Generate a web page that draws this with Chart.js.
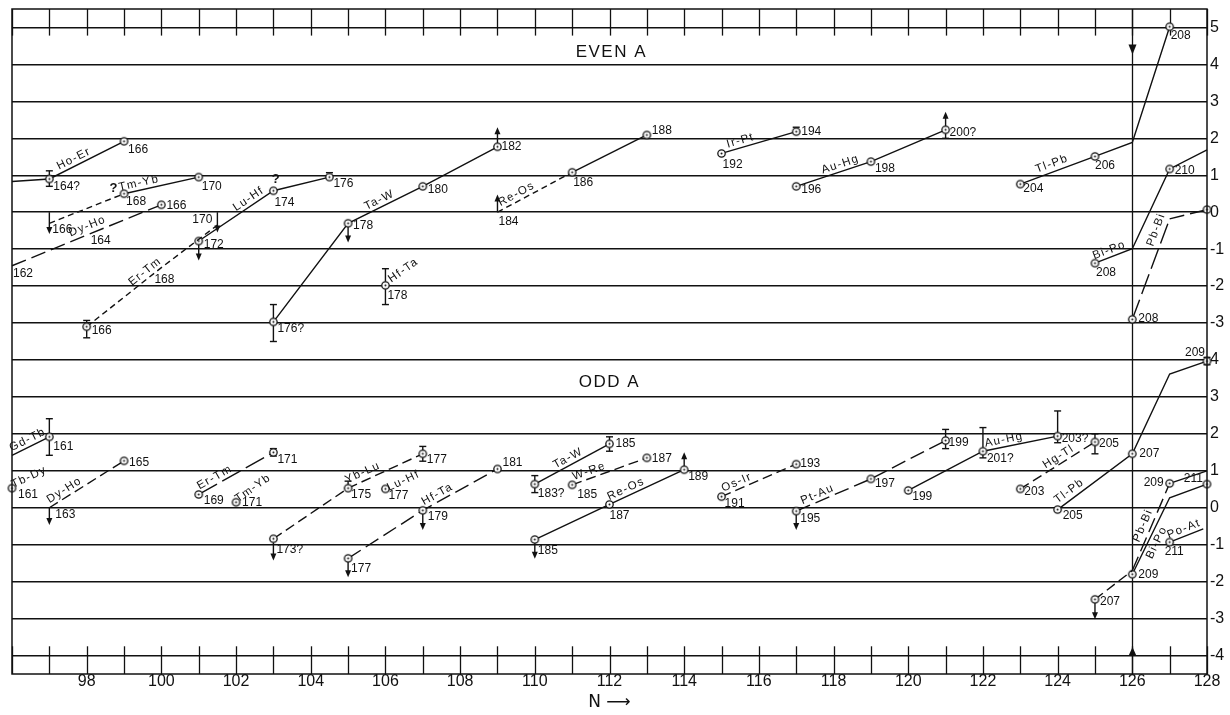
<!DOCTYPE html>
<html>
<head>
<meta charset="utf-8">
<title>Decay energies vs N, even A and odd A</title>
<script src="https://cdn.jsdelivr.net/npm/chart.js@4.4.0/dist/chart.umd.min.js"></script>
<style>
  html, body { margin: 0; padding: 0; background: #fff; }
  #chart { display: block; }
</style>
</head>
<body>
<canvas id="chart" width="1230" height="715"></canvas>
<script>
/* ---- tick labels ---- */
const nTicks = [98, 100, 102, 104, 106, 108, 110, 112, 114, 116, 118, 120, 122, 124, 126, 128];
const evenTicks = [-3, -2, -1, 0, 1, 2, 3, 4, 5];
const oddTicks = [-4, -3, -2, -1, 0, 1, 2, 3, 4];

/* ---- EVEN A: [N, energy, mass number] ---- */
const eHoEr = [[96, 0.83, null], [97, 0.9, "164?"], [99, 1.92, "166"]];
const eTmYb = [[97, -0.3, "166"], [99, 0.5, "168"], [101, 0.95, "170"]];
const eDyHo = [[96, -1.45, "162"], [98, -0.62, "164"], [100, 0.2, "166"]];
const eErTm = [[98, -3.1, "166"], [100, -1.5, "168"], [101.5, -0.35, "170"]];
const eLuHf = [[101, -0.78, "172"], [103, 0.58, "174"], [104.5, 0.95, "176"]];
const eTaW = [[103, -2.97, "176?"], [105, -0.3, "178"], [107, 0.7, "180"], [109, 1.77, "182"]];
const eHfTa = [[106, -1.98, "178"]];
const eReOs = [[109, 0, "184"], [111, 1.08, "186"], [113, 2.09, "188"]];
const eIrPt = [[115, 1.59, "192"], [117, 2.18, "194"]];
const eAuHg = [[117, 0.7, "196"], [119, 1.37, "198"], [121, 2.23, "200?"]];
const eTlPb = [[123, 0.76, "204"], [125, 1.51, "206"], [126, 1.89, null], [127, 5.02, "208"]];
const eBiPo = [[125, -1.38, "208"], [126, -0.99, null], [127, 1.17, "210"], [128, 1.69, null]];
const ePbBi = [[126, -2.9, "208"], [127, -0.18, null], [128, 0.07, null]];

// error bars [N, low, high] and limit arrows [N, from, to]
const eErrors = [[97, 0.7, 1.12], [98, -3.4, -2.93], [103, -3.5, -2.5], [106, -2.5, -1.53],
  [104.5, 0.95, 1.07], [117, 2.18, 2.3], [121, 2.0, 2.23]];
const eLimits = [[97, 0, -0.59], [101.5, 0, -0.55], [101, -0.78, -1.31], [105, -0.3, -0.82],
  [109, 1.77, 2.3], [109, 0, 0.48], [121, 2.23, 2.72]];
const eNotes = [[98.72, 0.64, "?"], [103.06, 0.9, "?"]];

/* ---- ODD A ---- */
const oGdTb = [[96, 1.42, null], [97, 1.92, "161"]];
const oTbDy = [[96, 0.53, "161"]];
const oDyHo = [[97, 0, "163"], [99, 1.27, "165"]];
const oErTm = [[101, 0.36, "169"], [103, 1.5, "171"]];
const oTmYb = [[102, 0.15, "171"]];
const oYbLu = [[103, -0.84, "173?"], [105, 0.53, "175"], [107, 1.46, "177"]];
const oLuHf = [[106, 0.51, "177"]];
const oHfTa = [[105, -1.37, "177"], [107, -0.07, "179"], [109, 1.05, "181"]];
const oTaW = [[110, 0.64, "183?"], [112, 1.73, "185"]];
const oWRe = [[111, 0.62, "185"], [113, 1.35, "187"]];
const oReOs = [[110, -0.86, "185"], [112, 0.09, "187"], [114, 1.03, "189"]];
const oOsIr = [[115, 0.3, "191"], [117, 1.18, "193"]];
const oPtAu = [[117, -0.09, "195"], [119, 0.78, "197"], [121, 1.82, "199"]];
const oAuHg = [[120, 0.47, "199"], [122, 1.53, "201?"], [124, 1.94, "203?"]];
const oHgTl = [[123, 0.51, "203"], [125, 1.78, "205"]];
const oTlPb = [[124, -0.05, "205"], [126, 1.46, "207"], [127, 3.62, null], [128, 3.97, "209"]];
const oPbBi = [[125, -2.48, "207"], [126, -1.7, null], [127, 0.66, "209"], [128, 1.0, null]];
const oBiPo = [[126, -1.8, "209"], [127, 0.27, null], [128, 0.64, "211"]];
const oPoAt = [[127, -0.93, "211"], [127.9, -0.57, null]];

const oErrors = [[97, 1.42, 2.41], [103, 1.4, 1.6], [105, 0.53, 0.72], [107, 1.26, 1.66],
  [110, 0.41, 0.87], [112, 1.53, 1.92], [121, 1.6, 2.12], [122, 1.35, 2.17],
  [124, 1.76, 2.62], [125, 1.46, 2.0], [128, 3.87, 4.07]];
const oLimits = [[97, 0, -0.47], [103, -0.84, -1.43], [105, -1.37, -1.88], [107, -0.07, -0.6],
  [110, -0.86, -1.38], [114, 1.03, 1.5], [117, -0.09, -0.6], [125, -2.48, -3.02]];

// closed shell at N = 126, arrow tips in each panel
const shellN = 126;
const shellTips = { even: 4.27, odd: -3.77 };

/* ---- styles ---- */
const ink = "#111";
const family = "'Liberation Sans', Arial, sans-serif";
const dashes = { solid: [], short: [6, 4], mid: [10, 5], long: [15, 6], xlong: [21, 6] };

// seg: [segment, position along it, offset above]; at: [dx, dy, angle] for single points
const evenSeries = [
  { pts: eHoEr, name: "Ho-Er", mark: [1, 2], dash: ["solid"], seg: [1, 0.37, 7], lab: [null, [4, 8], [4, 8]] },
  { pts: eTmYb, name: "Tm-Yb", mark: [1, 2], dash: ["short", "solid"], seg: [1, 0.22, 7], lab: [[3, 6], [2, 8], [3, 10]] },
  { pts: eDyHo, name: "Dy-Ho", mark: [2], dash: ["long"], seg: [1, 0.05, 8], lab: [[1, 8], [4, 6], [5, 1]] },
  { pts: eErTm, name: "Er-Tm", mark: [0], dash: ["short"], seg: [0, 0.84, 7], lab: [[5, 4], [-7, 12], [-5, -5, "r"]] },
  { pts: eLuHf, name: "Lu-Hf", mark: [0, 1, 2], dash: ["solid"], seg: [0, 0.72, 7], lab: [[5, 4], [1, 12], [4, 7]] },
  { pts: eTaW, name: "Ta-W", mark: [0, 1, 2, 3], dash: ["solid"], seg: [1, 0.46, 7], lab: [[4, 7], [5, 2], [5, 3], [4, 0]] },
  { pts: eHfTa, name: "Hf-Ta", mark: [0], dash: ["solid"], at: [18, -15, -35], lab: [[2, 10]] },
  { pts: eReOs, name: "Re-Os", mark: [1, 2], dash: ["short", "solid"], seg: [0, 0.3, 7], lab: [[1, 9], [1, 10], [5, -4]] },
  { pts: eIrPt, name: "Ir-Pt", mark: [0, 1], dash: ["solid"], seg: [0, 0.28, 7], lab: [[1, 11], [5, 0]] },
  { pts: eAuHg, name: "Au-Hg", mark: [0, 1, 2], dash: ["solid"], seg: [0, 0.62, 7], lab: [[5, 3], [4, 7], [4, 3]] },
  { pts: eTlPb, name: "Tl-Pb", mark: [0, 1, 3], dash: ["solid"], seg: [0, 0.46, 8], lab: [[3, 5], [0, 9], null, [1, 9]] },
  { pts: eBiPo, name: "Bi-Po", mark: [0, 2], dash: ["solid"], seg: [0, 0.45, 7], lab: [[1, 10], null, [5, 2], null] },
  { pts: ePbBi, name: "Pb-Bi", mark: [0, 2], dash: ["xlong", "long"], seg: [0, 0.86, 9], lab: [[6, -1], null, null] },
];

const oddSeries = [
  { pts: oGdTb, name: "Gd-Tb", mark: [1], dash: ["solid"], seg: [0, 0.5, 7], lab: [null, [4, 10]] },
  { pts: oTbDy, name: "Tb-Dy", mark: [0], dash: ["solid"], at: [17, -11, -25], lab: [[6, 7]] },
  { pts: oDyHo, name: "Dy-Ho", mark: [1], dash: ["mid"], seg: [0, 0.25, 7], lab: [[6, 7], [5, 2]] },
  { pts: oErTm, name: "Er-Tm", mark: [0, 1], dash: ["xlong"], seg: [0, 0.26, 7], lab: [[5, 6], [4, 7]] },
  { pts: oTmYb, name: "Tm-Yb", mark: [0], dash: ["solid"], at: [17, -14, -35], lab: [[6, 0]] },
  { pts: oYbLu, name: "Yb-Lu", mark: [0, 1, 2], dash: ["mid"], seg: [1, 0.24, 8], lab: [[3, 11], [3, 7], [4, 6]] },
  { pts: oLuHf, name: "Lu-Hf", mark: [0], dash: ["solid"], at: [18, -8, -25], lab: [[3, 7]] },
  { pts: oHfTa, name: "Hf-Ta", mark: [0, 1, 2], dash: ["long"], seg: [1, 0.24, 7], lab: [[3, 10], [5, 6], [5, -6]] },
  { pts: oTaW, name: "Ta-W", mark: [0, 1], dash: ["solid"], seg: [0, 0.49, 7], lab: [[3, 10], [6, 0]] },
  { pts: oWRe, name: "W-Re", mark: [0, 1], dash: ["mid"], seg: [0, 0.26, 7], lab: [[5, 10], [5, 1]] },
  { pts: oReOs, name: "Re-Os", mark: [0, 1, 2], dash: ["solid"], seg: [1, 0.26, 7], lab: [[3, 11], [0, 11], [4, 7]] },
  { pts: oOsIr, name: "Os-Ir", mark: [0, 1], dash: ["mid"], seg: [0, 0.24, 7], lab: [[3, 7], [4, 0]] },
  { pts: oPtAu, name: "Pt-Au", mark: [0, 1, 2], dash: ["long"], seg: [0, 0.32, 7], lab: [[4, 8], [4, 5], [3, 2]] },
  { pts: oAuHg, name: "Au-Hg", mark: [0, 1, 2], dash: ["solid"], seg: [1, 0.3, 7], lab: [[4, 6], [4, 7], [4, 3]] },
  { pts: oHgTl, name: "Hg-Tl", mark: [0, 1], dash: ["mid"], seg: [0, 0.56, 7], lab: [[4, 3], [4, 2]] },
  { pts: oTlPb, name: "Tl-Pb", mark: [0, 1, 3], dash: ["solid"], seg: [0, 0.22, 8], lab: [[5, 6], [7, 0], null, [-2, -8, "r"]] },
  { pts: oPbBi, name: "Pb-Bi", mark: [0, 2], dash: ["mid", "long", "solid"], seg: [1, 0.48, 8], lab: [[5, 2], null, [-6, -1, "r"], null] },
  { pts: oBiPo, name: "Bi-Po", mark: [0, 2], dash: ["solid"], seg: [0, 0.46, -8], lab: [[6, 0], null, [-4, -5, "r"]] },
  { pts: oPoAt, name: "Po-At", mark: [0], dash: ["solid"], seg: [0, 0.5, 7], lab: [[-5, 10]] },
];

const panelTitles = [
  { axis: "yEven", n: 112.05, v: 4.33, text: "EVEN A" },
  { axis: "yOdd", n: 112, v: 3.4, text: "ODD A" },
];

/* ---- marker: open circle with a centre dot ---- */
function makeMarker() {
  const c = document.createElement("canvas");
  c.width = c.height = 11;
  const g = c.getContext("2d");
  g.fillStyle = "#fff";
  g.beginPath(); g.arc(5.5, 5.5, 3.7, 0, 2 * Math.PI); g.fill();
  g.lineWidth = 1.3; g.strokeStyle = ink; g.stroke();
  g.fillStyle = ink;
  g.beginPath(); g.arc(5.5, 5.5, 1, 0, 2 * Math.PI); g.fill();
  return c;
}
const marker = makeMarker();

const allSeries = [];
function buildDatasets(series, axis) {
  return series.map((s) => {
    allSeries.push({ s, axis });
    return {
      data: s.pts.map((p) => ({ x: p[0], y: p[1] })),
      yAxisID: axis,
      borderColor: ink,
      borderWidth: 1.4,
      tension: 0,
      fill: false,
      clip: false,
      pointStyle: marker,
      pointRadius: (ctx) => (s.mark.includes(ctx.dataIndex) ? 4 : 0),
      pointHoverRadius: 0,
      segment: { borderDash: (ctx) => dashes[s.dash[ctx.p0DataIndex] || s.dash[0]] },
    };
  });
}

function line(ctx, x0, y0, x1, y1) {
  ctx.beginPath(); ctx.moveTo(x0, y0); ctx.lineTo(x1, y1); ctx.stroke();
}
function arrow(ctx, x, y0, y1, len, half) {
  const dir = Math.sign(y1 - y0);
  line(ctx, x, y0, x, y1 - dir * len * 0.5);
  ctx.beginPath();
  ctx.moveTo(x, y1);
  ctx.lineTo(x - half, y1 - dir * len);
  ctx.lineTo(x + half, y1 - dir * len);
  ctx.closePath(); ctx.fill();
}

const decor = {
  id: "decor",
  beforeDatasetsDraw(chart) {
    const { ctx, chartArea: a, scales } = chart;
    const x = scales.x, yE = scales.yEven, yO = scales.yOdd;
    ctx.save();
    ctx.strokeStyle = ink; ctx.fillStyle = ink;
    // tick strips along top and bottom
    ctx.lineWidth = 1.3;
    const topEnd = yE.getPixelForValue(4.78), botStart = yO.getPixelForValue(-3.75);
    for (let n = Math.ceil(x.min); n <= x.max; n++) {
      const px = Math.round(x.getPixelForValue(n)) + 0.5;
      line(ctx, px, a.top, px, topEnd);
      line(ctx, px, botStart, px, a.bottom);
    }
    // closed shell line
    const sx = Math.round(x.getPixelForValue(shellN)) + 0.5;
    line(ctx, sx, a.top, sx, a.bottom);
    const tipE = yE.getPixelForValue(shellTips.even), tipO = yO.getPixelForValue(shellTips.odd);
    ctx.beginPath(); ctx.moveTo(sx, tipE); ctx.lineTo(sx - 4, tipE - 10); ctx.lineTo(sx + 4, tipE - 10); ctx.closePath(); ctx.fill();
    ctx.beginPath(); ctx.moveTo(sx, tipO); ctx.lineTo(sx - 4, tipO + 9); ctx.lineTo(sx + 4, tipO + 9); ctx.closePath(); ctx.fill();
    // error bars and limit arrows
    ctx.lineWidth = 1.4;
    [[eErrors, yE], [oErrors, yO]].forEach(([list, y]) => {
      list.forEach(([n, lo, hi]) => {
        const px = x.getPixelForValue(n), p0 = y.getPixelForValue(lo), p1 = y.getPixelForValue(hi);
        line(ctx, px, p0, px, p1);
        line(ctx, px - 3.5, p0, px + 3.5, p0);
        line(ctx, px - 3.5, p1, px + 3.5, p1);
      });
    });
    [[eLimits, yE], [oLimits, yO]].forEach(([list, y]) => {
      list.forEach(([n, from, to]) => {
        arrow(ctx, x.getPixelForValue(n), y.getPixelForValue(from), y.getPixelForValue(to), 7, 3);
      });
    });
    ctx.restore();
  },
  afterDatasetsDraw(chart) {
    const { ctx, chartArea: a, scales } = chart;
    const x = scales.x;
    ctx.save();
    ctx.fillStyle = ink; ctx.strokeStyle = ink;
    ctx.textBaseline = "middle";
    allSeries.forEach(({ s }, i) => {
      const meta = chart.getDatasetMeta(i);
      // mass number labels
      ctx.font = "12px " + family;
      ctx.letterSpacing = "0px";
      s.pts.forEach((p, j) => {
        const off = s.lab[j];
        if (p[2] === null || !off) return;
        const el = meta.data[j];
        ctx.textAlign = off[2] === "r" ? "right" : "left";
        ctx.fillText(p[2], el.x + off[0], el.y + off[1]);
      });
      // element pair names along the line
      ctx.font = "11.5px " + family;
      ctx.letterSpacing = "1.3px";
      ctx.textAlign = "center";
      let nx, ny, ang;
      if (s.seg) {
        const [j, t, off] = s.seg;
        const p0 = meta.data[j], p1 = meta.data[j + 1];
        ang = Math.atan2(p1.y - p0.y, p1.x - p0.x);
        nx = p0.x + t * (p1.x - p0.x) + off * Math.sin(ang);
        ny = p0.y + t * (p1.y - p0.y) - off * Math.cos(ang);
      } else {
        const el = meta.data[0];
        nx = el.x + s.at[0]; ny = el.y + s.at[1]; ang = s.at[2] * Math.PI / 180;
      }
      ctx.save();
      ctx.translate(nx, ny); ctx.rotate(ang);
      ctx.fillText(s.name, 0, 0);
      ctx.restore();
    });
    // question marks
    ctx.letterSpacing = "0px";
    ctx.font = "bold 13px " + family;
    ctx.textAlign = "center";
    eNotes.forEach(([n, v, t]) => ctx.fillText(t, x.getPixelForValue(n), scales.yEven.getPixelForValue(v)));
    // panel titles
    ctx.font = "17px " + family;
    ctx.letterSpacing = "1.5px";
    panelTitles.forEach((p) => ctx.fillText(p.text, x.getPixelForValue(p.n), scales[p.axis].getPixelForValue(p.v)));
    // frame
    ctx.lineWidth = 1.5;
    ctx.strokeRect(a.left, a.top, a.right - a.left, a.bottom - a.top);
    ctx.restore();
  },
};

function yAxis(min, max, ticks) {
  return {
    type: "linear",
    position: "right",
    stack: "panels",
    stackWeight: 1,
    min, max,
    afterBuildTicks: (s) => { s.ticks = ticks.map((v) => ({ value: v })); },
    afterFit: (s) => { s.width = 23; s.paddingTop = 0; s.paddingBottom = 0; },
    grid: { color: ink, lineWidth: 1.5, drawTicks: false },
    border: { display: false },
    ticks: { autoSkip: false, padding: 3, color: ink, font: { family, size: 16 } },
  };
}

const datasets = buildDatasets(evenSeries, "yEven").concat(buildDatasets(oddSeries, "yOdd"));

new Chart(document.getElementById("chart"), {
  type: "line",
  data: { datasets },
  options: {
    responsive: false,
    animation: false,
    devicePixelRatio: 1,
    events: [],
    layout: { padding: { left: 12, top: 9, right: 0, bottom: 0 } },
    plugins: { legend: { display: false }, tooltip: { enabled: false } },
    scales: {
      x: {
        type: "linear",
        min: 96, max: 128,
        afterBuildTicks: (s) => { s.ticks = nTicks.map((v) => ({ value: v })); },
        afterFit: (s) => { s.height = 41; s.paddingLeft = 0; s.paddingRight = 0; },
        grid: { display: false, drawTicks: false },
        border: { display: false },
        ticks: { autoSkip: false, maxRotation: 0, padding: -2, color: ink, font: { family, size: 16 } },
        title: { display: true, text: "N \u27F6", color: ink, font: { family: "'DejaVu Sans', sans-serif", size: 17 }, padding: { top: 0, bottom: 2 } },
      },
      yEven: yAxis(-3.5, 5.5, evenTicks),
      yOdd: yAxis(-4.5, 4.5, oddTicks),
    },
  },
  plugins: [decor],
});
</script>
</body>
</html>
